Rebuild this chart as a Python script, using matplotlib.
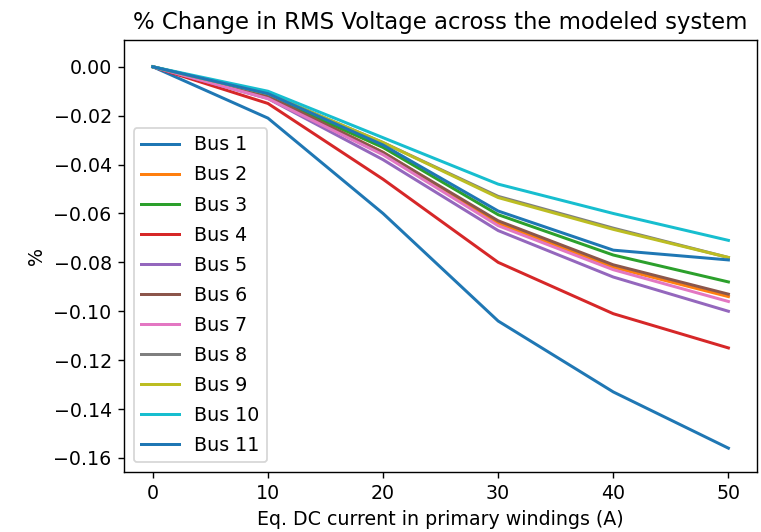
import numpy as np
import matplotlib
matplotlib.use("Agg")
import matplotlib.pyplot as plt

# DC current steps (A)
current = [0, 10, 20, 30, 40, 50]

# % change in RMS voltage per bus
bus1 = [0.0, -0.021, -0.060, -0.104, -0.133, -0.156]
bus2 = [0.0, -0.012, -0.035, -0.064, -0.082, -0.094]
bus3 = [0.0, -0.012, -0.033, -0.0605, -0.077, -0.088]
bus4 = [0.0, -0.015, -0.046, -0.080, -0.101, -0.115]
bus5 = [0.0, -0.013, -0.038, -0.067, -0.086, -0.100]
bus6 = [0.0, -0.012, -0.035, -0.063, -0.081, -0.093]
bus7 = [0.0, -0.013, -0.036, -0.065, -0.083, -0.096]
bus8 = [0.0, -0.011, -0.031, -0.053, -0.066, -0.078]
bus9 = [0.0, -0.011, -0.031, -0.0535, -0.0665, -0.078]
bus10 = [0.0, -0.010, -0.029, -0.048, -0.060, -0.071]
bus11 = [0.0, -0.011, -0.032, -0.059, -0.075, -0.079]

buses = [bus1, bus2, bus3, bus4, bus5, bus6, bus7, bus8, bus9, bus10, bus11]
labels = [f'Bus {i}' for i in range(1, 12)]

plt.rcParams['font.size'] = 10.8

dpi = 126.8
fig = plt.figure(figsize=(761 / dpi, 532 / dpi), dpi=dpi)
ax = fig.add_subplot(111)
fig.subplots_adjust(left=0.163, right=0.995, top=0.925, bottom=0.113)

for vals, lab in zip(buses, labels):
    ax.plot(current, vals, label=lab, lw=1.7)

ax.set_title('% Change in RMS Voltage across the modeled system')
ax.set_xlabel('Eq. DC current in primary windings (A)')
ax.set_ylabel('%')
ax.set_yticks(np.arange(-0.16, 0.001, 0.02))
ax.set_ylim(-0.1657, 0.011)
ax.legend(loc='lower left', labelspacing=0.58)

fig.savefig('out.png', dpi=dpi)
